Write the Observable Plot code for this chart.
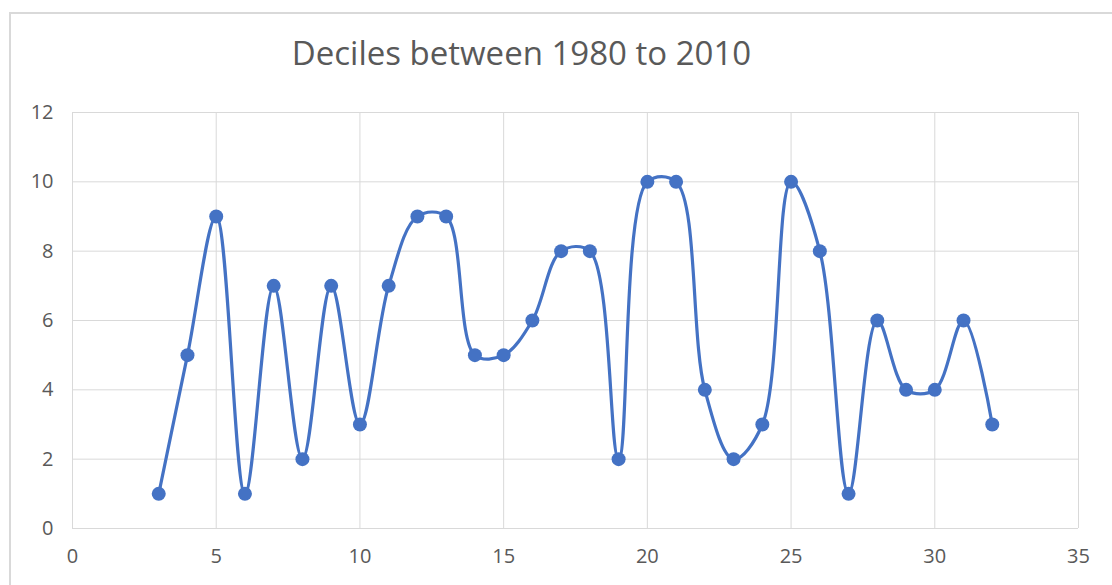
<!DOCTYPE html>
<html>
<head>
<meta charset="utf-8">
<script src="https://cdn.jsdelivr.net/npm/d3@7"></script>
<script src="https://cdn.jsdelivr.net/npm/@observablehq/plot@0.6"></script>
<style>
  html, body { margin: 0; padding: 0; background: #fff; overflow: hidden; }
  #wrap { position: relative; width: 1112px; height: 585px; overflow: hidden; }
  #border { position: absolute; left: 9px; top: 12px; width: 1200px; height: 700px; border: 2px solid #d9d9d9; box-sizing: border-box; }
  #chart { position: absolute; left: 0; top: 0; }
</style>
</head>
<body>
<div id="wrap"><div id="border"></div><div id="chart"></div></div>
<script>
const title = "Deciles between 1980 to 2010";
const xs = [3,4,5,6,7,8,9,10,11,12,13,14,15,16,17,18,19,20,21,22,23,24,25,26,27,28,29,30,31,32];
const ys = [1,5,9,1,7,2,7,3,7,9,9,5,5,6,8,8,2,10,10,4,2,3,10,8,1,6,4,4,6,3];
const xTicks = [0,5,10,15,20,25,30,35];
const yTicks = [0,2,4,6,8,10,12];

const data = xs.map((x, i) => ({x, y: ys[i]}));
const font = "'Open Sans', 'Noto Sans', sans-serif";
const gray = "#595959";

const chart = Plot.plot({
  width: 1112,
  height: 585,
  marginLeft: 72,
  marginRight: 34,
  marginTop: 112,
  marginBottom: 57,
  style: {fontFamily: font, fontSize: "20px", color: gray, background: "transparent", overflow: "visible"},
  x: {domain: [0, 35], ticks: xTicks, label: null},
  y: {domain: [0, 12], ticks: yTicks, label: null},
  marks: [
    Plot.gridX(xTicks, {stroke: "#d9d9d9", strokeOpacity: 1, strokeWidth: 1}),
    Plot.gridY(yTicks, {stroke: "#d9d9d9", strokeOpacity: 1, strokeWidth: 1}),
    Plot.axisX({ticks: xTicks, tickSize: 0, tickPadding: 20, fill: gray, fontSize: 20, label: null}),
    Plot.axisY({ticks: yTicks, tickSize: 0, tickPadding: 19, fill: gray, fontSize: 20, label: null}),
    Plot.line(data, {x: "x", y: "y", stroke: "#4472C4", strokeWidth: 3.2, curve: "catmull-rom"}),
    Plot.dot(data, {x: "x", y: "y", r: 7, fill: "#4472C4", stroke: "none"}),
    Plot.text([title], {frameAnchor: "top-left", lineAnchor: "middle", dx: 449, dy: -58, text: d => d, fontSize: 33, fill: gray, textAnchor: "middle", fontFamily: font})
  ]
});
document.getElementById("chart").appendChild(chart);
</script>
</body>
</html>
